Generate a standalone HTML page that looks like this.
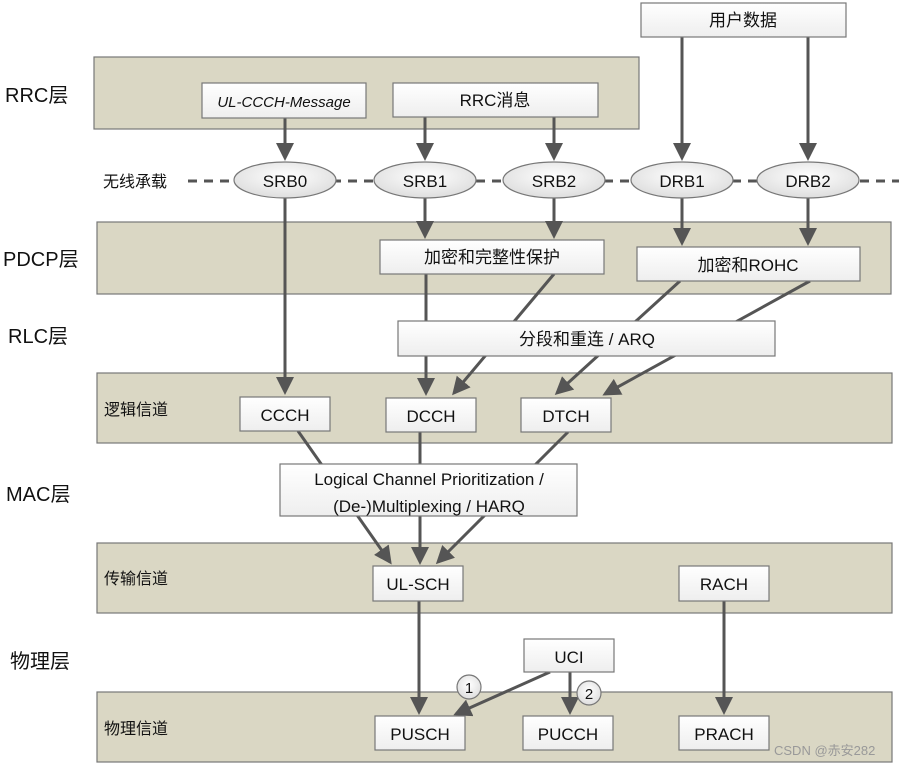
<!DOCTYPE html>
<html><head><meta charset="utf-8"><style>
html,body{margin:0;padding:0;background:#fff;}
svg{display:block;font-family:"Liberation Sans","Noto Sans CJK SC",sans-serif;}
</style></head><body>
<svg width="899" height="768" viewBox="0 0 899 768" xmlns="http://www.w3.org/2000/svg">
<defs>
<linearGradient id="g" x1="0" y1="0" x2="0" y2="1"><stop offset="0" stop-color="#ffffff"/><stop offset="1" stop-color="#eeeeee"/></linearGradient>
<radialGradient id="e" cx="0.5" cy="0.4" r="0.7"><stop offset="0" stop-color="#ffffff"/><stop offset="1" stop-color="#d8d8d8"/></radialGradient>
<marker id="a" markerWidth="6" markerHeight="6" refX="5" refY="3" orient="auto" markerUnits="strokeWidth"><path d="M0,0 L6,3 L0,6 z" fill="#555"/></marker>
</defs>
<g fill="#dad7c4" stroke="#777" stroke-width="1.2">
<rect x="94" y="57" width="545" height="72"/>
<rect x="97" y="222" width="794" height="72"/>
<rect x="97" y="373" width="795" height="70"/>
<rect x="97" y="543" width="795" height="70"/>
<rect x="97" y="692" width="795" height="70"/>
</g>
<line x1="188" y1="181" x2="899" y2="181" stroke="#555" stroke-width="3" stroke-dasharray="9,7"/>
<g stroke="#555" stroke-width="3" fill="none" marker-end="url(#a)">
<line x1="285" y1="118" x2="285" y2="158"/>
<line x1="425" y1="117" x2="425" y2="158"/>
<line x1="554" y1="117" x2="554" y2="158"/>
<line x1="682" y1="37" x2="682" y2="158"/>
<line x1="808" y1="37" x2="808" y2="158"/>
<line x1="285" y1="197" x2="285" y2="392"/>
<line x1="425" y1="197" x2="425" y2="236"/>
<line x1="554" y1="197" x2="554" y2="236"/>
<line x1="682" y1="197" x2="682" y2="243"/>
<line x1="808" y1="197" x2="808" y2="243"/>
<line x1="426" y1="274" x2="426" y2="393"/>
<line x1="554" y1="274" x2="454" y2="393"/>
<line x1="680" y1="281" x2="557" y2="393"/>
<line x1="810" y1="281" x2="605" y2="394"/>
<line x1="298" y1="431" x2="390" y2="562"/>
<line x1="420" y1="432" x2="420" y2="562"/>
<line x1="568" y1="432" x2="438" y2="562"/>
<line x1="419" y1="601" x2="419" y2="712"/>
<line x1="550" y1="672" x2="456" y2="714"/>
<line x1="570" y1="672" x2="570" y2="712"/>
<line x1="724" y1="601" x2="724" y2="712"/>
</g>
<g fill="url(#g)" stroke="#777" stroke-width="1.2">
<rect x="641" y="3" width="205" height="34"/>
<rect x="202" y="83" width="164" height="35"/>
<rect x="393" y="83" width="205" height="34"/>
<rect x="380" y="240" width="224" height="34"/>
<rect x="637" y="247" width="223" height="34"/>
<rect x="398" y="321" width="377" height="35"/>
<rect x="240" y="397" width="90" height="34"/>
<rect x="386" y="398" width="90" height="34"/>
<rect x="521" y="398" width="90" height="34"/>
<rect x="280" y="464" width="297" height="52"/>
<rect x="373" y="566" width="90" height="35"/>
<rect x="679" y="566" width="90" height="35"/>
<rect x="524" y="639" width="90" height="33"/>
<rect x="375" y="716" width="90" height="34"/>
<rect x="523" y="716" width="90" height="34"/>
<rect x="679" y="716" width="90" height="34"/>
</g>
<g fill="url(#e)" stroke="#777" stroke-width="1.2">
<ellipse cx="285" cy="180" rx="51" ry="18"/>
<ellipse cx="425" cy="180" rx="51" ry="18"/>
<ellipse cx="554" cy="180" rx="51" ry="18"/>
<ellipse cx="682" cy="180" rx="51" ry="18"/>
<ellipse cx="808" cy="180" rx="51" ry="18"/>
<circle cx="469" cy="687" r="12"/>
<circle cx="589" cy="693" r="12"/>
</g>
<g font-size="17" fill="#111" text-anchor="middle">
<text x="743" y="26">用户数据</text>
<text x="284" y="107" font-style="italic" font-size="15">UL-CCCH-Message</text>
<text x="495" y="106">RRC消息</text>
<text x="285" y="187">SRB0</text>
<text x="425" y="187">SRB1</text>
<text x="554" y="187">SRB2</text>
<text x="682" y="187">DRB1</text>
<text x="808" y="187">DRB2</text>
<text x="492" y="263">加密和完整性保护</text>
<text x="748" y="271">加密和ROHC</text>
<text x="587" y="345">分段和重连  /  ARQ</text>
<text x="285" y="421">CCCH</text>
<text x="431" y="422">DCCH</text>
<text x="566" y="422">DTCH</text>
<text x="429" y="485">Logical Channel Prioritization /</text>
<text x="429" y="512">(De-)Multiplexing / HARQ</text>
<text x="418" y="590">UL-SCH</text>
<text x="724" y="590">RACH</text>
<text x="569" y="663">UCI</text>
<text x="420" y="740">PUSCH</text>
<text x="568" y="740">PUCCH</text>
<text x="724" y="740">PRACH</text>
<text x="469" y="693" font-size="15">1</text>
<text x="589" y="699" font-size="15">2</text>
</g>
<g fill="#111">
<text x="5" y="102" font-size="20">RRC层</text>
<text x="103" y="187" font-size="16">无线承载</text>
<text x="3" y="266" font-size="20">PDCP层</text>
<text x="8" y="343" font-size="20">RLC层</text>
<text x="104" y="415" font-size="16">逻辑信道</text>
<text x="6" y="501" font-size="20">MAC层</text>
<text x="104" y="584" font-size="16">传输信道</text>
<text x="10" y="668" font-size="20">物理层</text>
<text x="104" y="734" font-size="16">物理信道</text>
<text x="774" y="755" font-size="13" fill="#999">CSDN @赤安282</text>
</g>
</svg>
</body></html>
